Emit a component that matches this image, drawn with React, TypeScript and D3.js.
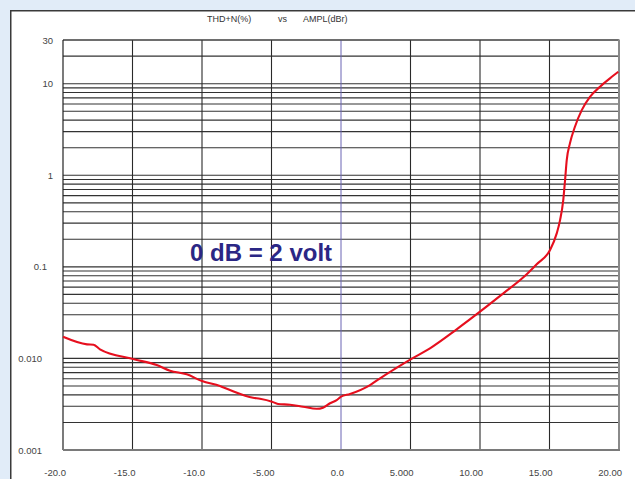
import * as d3 from "d3";
import { useEffect, useRef } from "react";

// THD+N (%) versus output amplitude (dBr)
const ampl = [
  -20.0, -18.27, -17.8, -17.34, -14.96, -13.26, -12.3, -11.1, -10.0, -8.71, -7.99,
  -6.33, -5.83, -4.96, -4.53, -3.67, -2.73, -1.75, -1.29, -0.79, -0.31, 0.0, 0.65,
  2.09, 2.81, 5.01, 6.4, 8.32, 10.0, 11.68, 13.12, 14.08, 15.04, 15.52, 15.76,
  15.99, 16.12, 16.24, 16.47, 16.83, 17.32, 17.91, 18.63, 19.35, 19.95,
];
const thdn = [
  0.01726, 0.01425, 0.0141, 0.01257, 0.00985, 0.00847, 0.00734, 0.0067, 0.00567,
  0.005, 0.00452, 0.00372, 0.00363, 0.00337, 0.00318, 0.00312, 0.00297, 0.00282,
  0.0029, 0.00324, 0.00351, 0.00382, 0.00409, 0.00512, 0.00607, 0.00978, 0.0129,
  0.0208, 0.0324, 0.0514, 0.0768, 0.107, 0.153, 0.232, 0.324, 0.536, 0.887, 1.466,
  2.23, 3.39, 5.15, 7.19, 9.25, 11.43, 13.49,
];

const xTicks = [-20, -15, -10, -5, 0, 5, 10, 15, 20];
const xTickLabels = ["-20.0", "-15.0", "-10.0", "-5.00", "0.0", "5.000", "10.00", "15.00", "20.00"];
const yTicks = [30, 10, 1, 0.1, 0.01, 0.001];
const yTickLabels = ["30", "10", "1", "0.1", "0.010", "0.001"];

const titleParts = ["THD+N(%)", "vs", "AMPL(dBr)"];
const note = "0 dB = 2 volt";

function App() {
  const ref = useRef<SVGSVGElement>(null);

  useEffect(() => {
    const svg = d3.select(ref.current);
    svg.selectAll("*").remove();

    const width = 635;
    const height = 479;
    const left = 63, right = 619, top = 40, bottom = 450;

    svg.attr("width", width).attr("height", height);

    // page background + white panel
    svg.append("rect").attr("width", width).attr("height", height).attr("fill", "#e1ecf8");
    svg.append("rect")
      .attr("x", 10.75).attr("y", 10.75)
      .attr("width", width + 20).attr("height", height + 20)
      .attr("fill", "#fff")
      .attr("stroke", "#3a3a3a")
      .attr("stroke-width", 1.5);

    const x = d3.scaleLinear().domain([-20, 20]).range([left, right]);
    const y = d3.scaleLog().domain([0.001, 30]).range([bottom, top]);

    // horizontal grid: decades + minors
    const hLines: number[] = [];
    for (let e = -3; e <= 1; e++) {
      for (let k = 1; k <= 9; k++) {
        const v = k * Math.pow(10, e);
        if (v <= 30) hLines.push(v);
      }
    }
    svg.append("g")
      .selectAll("line")
      .data(hLines)
      .enter()
      .append("line")
      .attr("x1", left).attr("x2", right)
      .attr("y1", d => y(d)).attr("y2", d => y(d))
      .attr("stroke", "#333")
      .attr("stroke-width", 1.1);

    // vertical grid
    svg.append("g")
      .selectAll("line")
      .data(xTicks.filter(t => t !== 0 && t !== -20 && t !== 20))
      .enter()
      .append("line")
      .attr("x1", d => x(d)).attr("x2", d => x(d))
      .attr("y1", top).attr("y2", bottom)
      .attr("stroke", "#2a2a2a")
      .attr("stroke-width", 1.1);

    svg.append("line")
      .attr("x1", x(0)).attr("x2", x(0))
      .attr("y1", top).attr("y2", bottom)
      .attr("stroke", "#6a64b4")
      .attr("stroke-width", 1);

    // frame
    svg.append("line").attr("x1", left).attr("x2", right).attr("y1", top).attr("y2", top)
      .attr("stroke", "#444").attr("stroke-width", 1.2);
    svg.append("line").attr("x1", left).attr("x2", left).attr("y1", top).attr("y2", bottom)
      .attr("stroke", "#222").attr("stroke-width", 1.2);
    svg.append("line").attr("x1", right).attr("x2", right).attr("y1", top - 0.6).attr("y2", bottom + 1)
      .attr("stroke", "#8a8a8a").attr("stroke-width", 2);
    svg.append("line").attr("x1", left).attr("x2", right + 1).attr("y1", bottom).attr("y2", bottom)
      .attr("stroke", "#7a7a7a").attr("stroke-width", 2);

    // tick labels
    const font = "'Liberation Sans', Arial, sans-serif";
    svg.append("g")
      .selectAll("text")
      .data(xTicks)
      .enter()
      .append("text")
      .attr("x", d => x(d) + 3)
      .attr("y", 476)
      .attr("text-anchor", "end")
      .style("font-family", font)
      .style("font-size", "9.5px")
      .attr("fill", "#444")
      .text((d, i) => xTickLabels[i]);

    const yLabelRight = (v: number) => (v >= 1 ? 53 : v >= 0.1 ? 47 : 42);
    svg.append("g")
      .selectAll("text")
      .data(yTicks)
      .enter()
      .append("text")
      .attr("x", d => yLabelRight(d))
      .attr("y", d => y(d) + 3.5)
      .attr("text-anchor", "end")
      .style("font-family", font)
      .style("font-size", "9.5px")
      .attr("fill", "#444")
      .text((d, i) => yTickLabels[i]);

    // title
    const titleX = [207, 278, 303];
    svg.append("g")
      .selectAll("text")
      .data(titleParts)
      .enter()
      .append("text")
      .attr("x", (d, i) => titleX[i])
      .attr("y", 22)
      .style("font-family", font)
      .style("font-size", "9px")
      .attr("fill", "#333")
      .text(d => d);

    // curve
    const points = ampl.map((a, i) => [a, thdn[i]] as [number, number]);
    const line = d3.line<[number, number]>()
      .x(d => x(d[0]))
      .y(d => y(d[1]))
      .curve(d3.curveMonotoneX);
    svg.append("path")
      .attr("d", line(points))
      .attr("fill", "none")
      .attr("stroke", "#e60f1e")
      .attr("stroke-width", 2.1)
      .attr("stroke-linejoin", "round");

    // annotation
    svg.append("text")
      .attr("x", 190)
      .attr("y", 261)
      .style("font-family", font)
      .style("font-size", "24px")
      .style("font-weight", "bold")
      .attr("fill", "#2b2785")
      .text(note);
  }, []);

  return (
    <div style={{ position: "fixed", left: 0, top: 0 }}>
      <svg ref={ref} style={{ display: "block" }} />
    </div>
  );
}

export default App;
